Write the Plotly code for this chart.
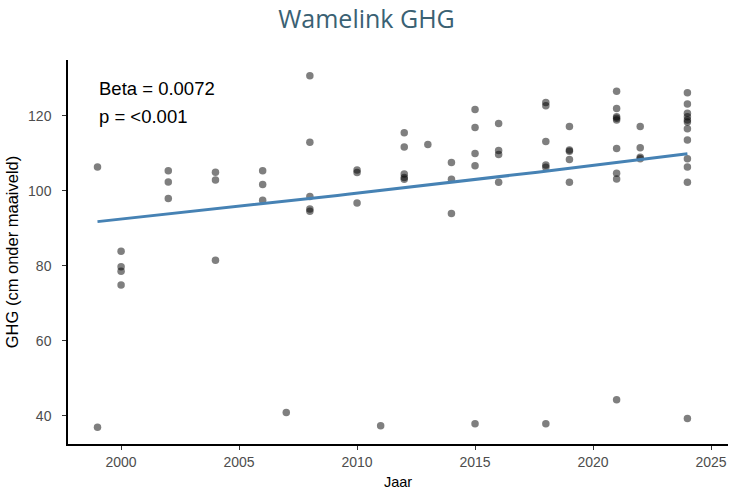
import numpy as np
import plotly.graph_objects as go

# Data
years = [1999, 1999,
         2000, 2000, 2000, 2000,
         2002, 2002, 2002,
         2004, 2004, 2004,
         2006, 2006, 2006,
         2007,
         2008, 2008, 2008, 2008, 2008,
         2010, 2010, 2010,
         2011,
         2012, 2012, 2012, 2012, 2012,
         2013,
         2014, 2014, 2014,
         2015, 2015, 2015, 2015, 2015,
         2016, 2016, 2016, 2016,
         2018, 2018, 2018, 2018, 2018, 2018,
         2019, 2019, 2019, 2019, 2019,
         2021, 2021, 2021, 2021, 2021, 2021, 2021, 2021, 2021,
         2022, 2022, 2022, 2022,
         2024, 2024, 2024, 2024, 2024, 2024, 2024, 2024, 2024, 2024, 2024, 2024]
ghg = [106.4, 37.0,
       83.9, 79.8, 78.6, 74.9,
       105.4, 102.4, 98.0,
       105.0, 102.9, 81.5,
       105.4, 101.7, 97.5,
       40.9,
       130.7, 113.0, 98.5, 95.2, 94.6,
       105.6, 104.9, 96.8,
       37.4,
       115.5, 111.7, 104.5, 103.6, 103.1,
       112.4,
       107.6, 103.1, 94.0,
       121.7, 116.9, 110.0, 106.7, 37.9,
       118.0, 110.8, 109.7, 102.3,
       123.6, 122.7, 113.2, 106.9, 106.3, 37.9,
       117.2, 110.9, 110.6, 108.4, 102.3,
       126.6, 122.0, 119.8, 119.4, 118.9, 111.3, 104.7, 103.2, 44.3,
       117.2, 111.5, 109.0, 108.6,
       126.2, 123.2, 120.7, 119.8, 118.9, 118.4, 116.6, 113.6, 108.6, 106.4, 102.3, 39.3]

# Fitted log-linear trend (from annotation: beta = 0.0072)
fit_beta = 0.0072
fit_start_year = 1999
fit_end_year = 2024
fit_start_value = 91.8

x_ticks = [2000, 2005, 2010, 2015, 2020, 2025]
y_ticks = [40, 60, 80, 100, 120]

fit_x = np.linspace(fit_start_year, fit_end_year, 60)
fit_y = fit_start_value * np.exp(fit_beta * (fit_x - fit_start_year))

FONT = "Liberation Sans, Arial"

fig = go.Figure()
fig.add_trace(go.Scatter(
    x=years, y=ghg, mode="markers",
    marker=dict(size=7.5, color="rgba(0,0,0,0.5)", line=dict(width=0)),
    showlegend=False, hoverinfo="x+y"))
fig.add_trace(go.Scatter(
    x=fit_x, y=fit_y, mode="lines",
    line=dict(color="#4682B4", width=3),
    showlegend=False))

fig.add_annotation(
    x=0.044, y=0.927, xref="paper", yref="paper",
    text="Beta = 0.0072", showarrow=False,
    xanchor="left", yanchor="middle", align="left",
    font=dict(family=FONT, size=18.5, color="black"))
fig.add_annotation(
    x=0.044, y=0.854, xref="paper", yref="paper",
    text="p = <0.001", showarrow=False,
    xanchor="left", yanchor="middle", align="left",
    font=dict(family=FONT, size=18.5, color="black"))

fig.update_layout(
    width=733, height=490,
    paper_bgcolor="white", plot_bgcolor="white",
    margin=dict(l=68, r=5, t=60, b=46, autoexpand=False),
    title=dict(text="Wamelink GHG", x=0.5, xanchor="center", y=0.96, yanchor="middle",
               font=dict(family="Open Sans, Noto Sans", size=25, color="#3A6173")),
    xaxis=dict(range=[1997.75, 2025.72], tickvals=x_ticks, showgrid=False, zeroline=False,
               automargin=False,
               showline=True, linecolor="black", linewidth=1.5,
               ticks="outside", ticklen=4, tickcolor="#333", tickwidth=1,
               tickfont=dict(family=FONT, size=14, color="#4D4D4D"),
               title=dict(text="Jaar", standoff=8,
                          font=dict(family=FONT, size=14.5, color="black"))),
    yaxis=dict(range=[32.5, 134.9], tickvals=y_ticks, showgrid=False, zeroline=False,
               automargin=False,
               showline=True, linecolor="black", linewidth=1.5,
               ticks="outside", ticklen=4, tickcolor="#333", tickwidth=1,
               ticklabelstandoff=8,
               tickfont=dict(family=FONT, size=14, color="#4D4D4D"),
               title=dict(text="GHG (cm onder maaiveld)", standoff=5,
                          font=dict(family=FONT, size=16.5, color="black"))),
)

fig.write_html("out.html", config={"displayModeBar": False},
               post_script="document.body.style.margin='0px';")
